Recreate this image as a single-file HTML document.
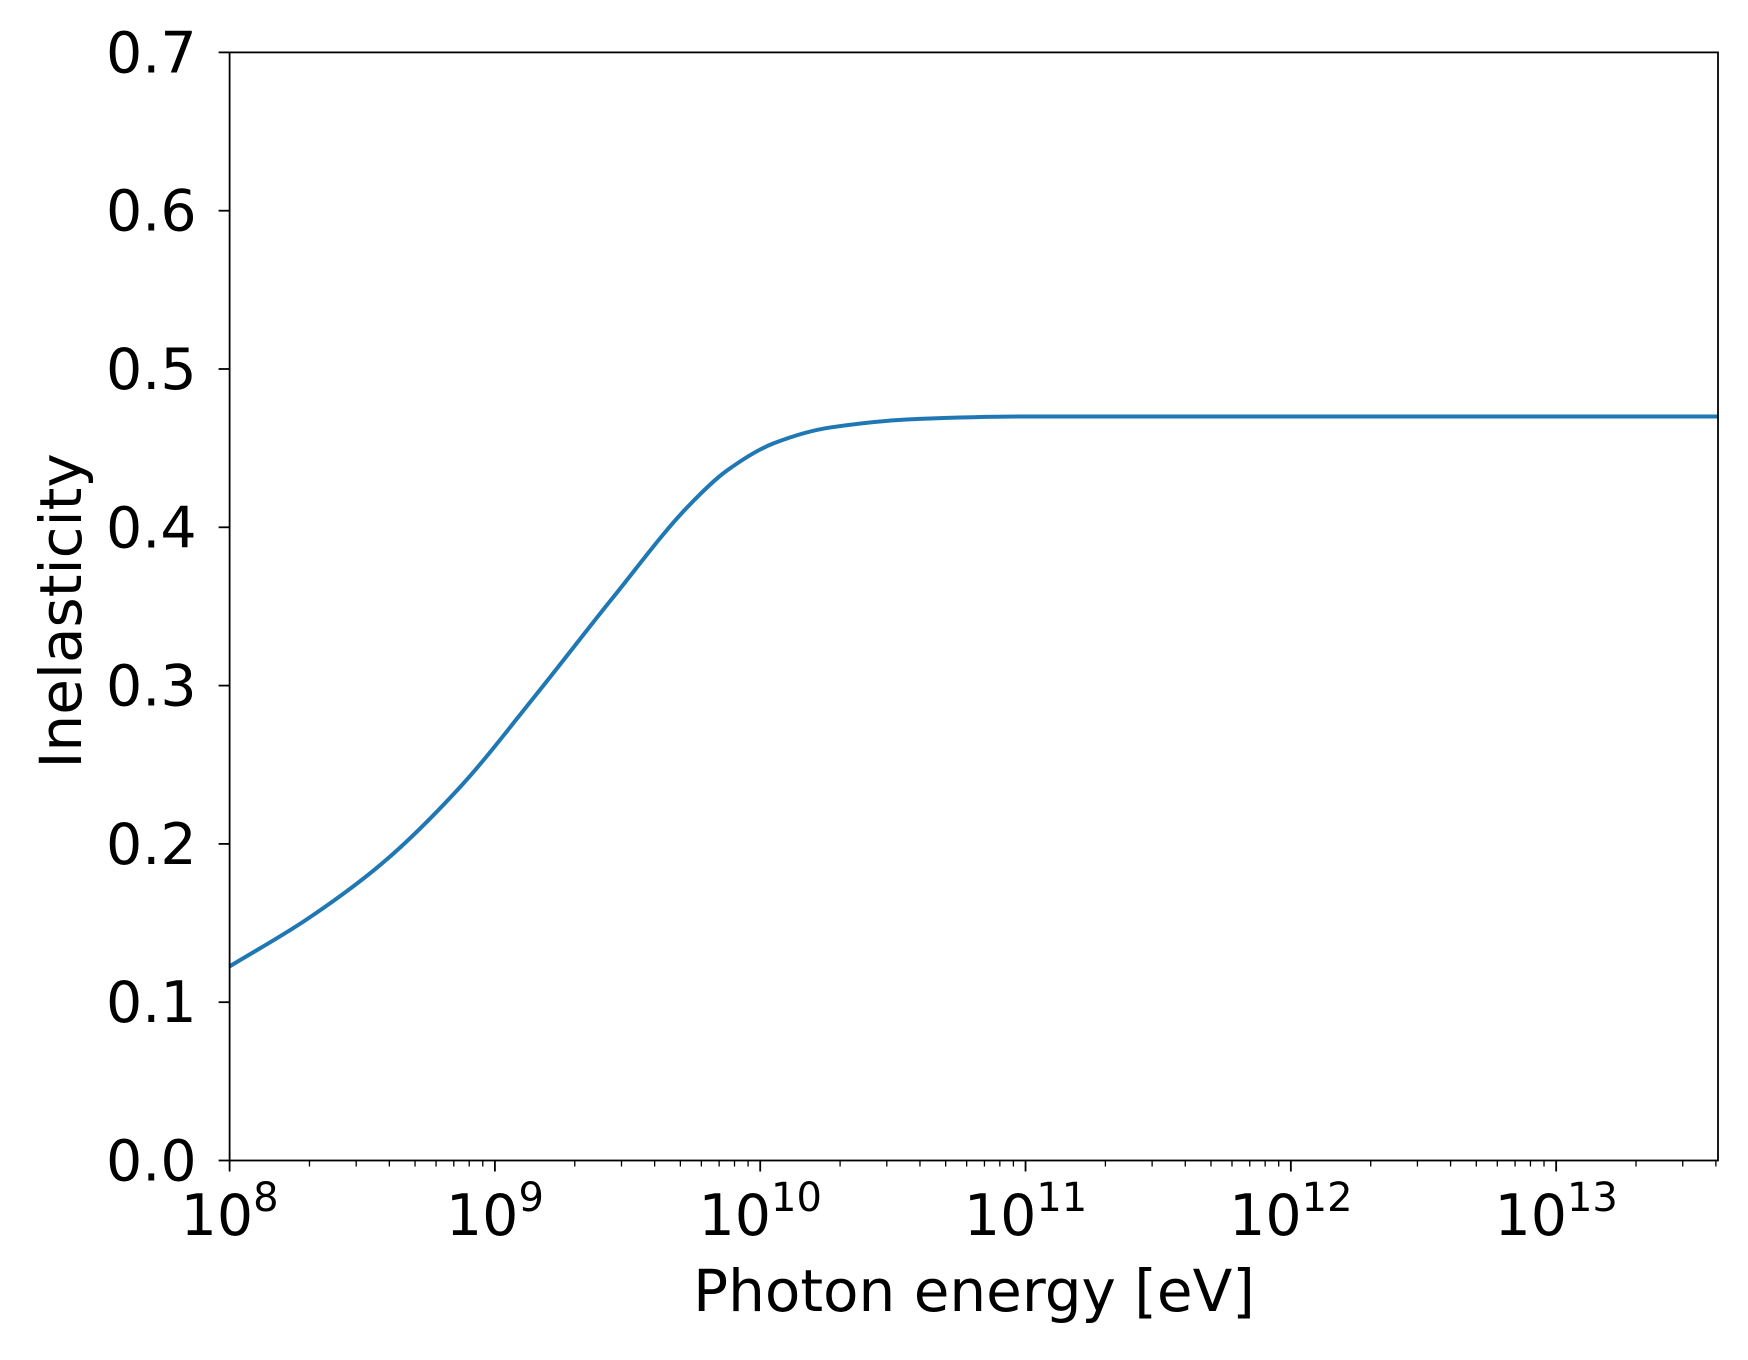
<!DOCTYPE html>
<html><head><meta charset="utf-8"><style>body{margin:0;background:#fff}svg{display:block}</style></head>
<body>
<svg id="chart" width="1748" height="1360" viewBox="0 0 1748 1360" xmlns="http://www.w3.org/2000/svg" font-family="'DejaVu Sans','Liberation Sans',sans-serif">
<rect width="1748" height="1360" fill="#fff"/>
<path id="curve" fill="none" stroke="#1f77b4" stroke-width="4" stroke-linejoin="round"/>
<rect x="229.6" y="52.4" width="1488.4" height="1108.1" fill="none" stroke="#000" stroke-width="1.8"/>
<g id="axes"></g>
<text x="974" y="1311" font-size="58" text-anchor="middle">Photon energy [eV]</text>
<text transform="translate(81,611) rotate(-90)" font-size="58" text-anchor="middle">Inelasticity</text>
</svg>
<script>
const logE = [8, 8.288, 8.577, 8.866, 9.154, 9.442, 9.731, 9.876, 10.05, 10.262, 10.6, 11, 12, 13, 13.61];
const inel = [0.1226, 0.152, 0.188, 0.2354, 0.294, 0.355, 0.4137, 0.436, 0.453, 0.463, 0.4685, 0.470, 0.470, 0.470, 0.470];
const yTicks = [0, 0.1, 0.2, 0.3, 0.4, 0.5, 0.6, 0.7];
const yTickLabels = ["0.0","0.1","0.2","0.3","0.4","0.5","0.6","0.7"];
const xDecades = [8, 9, 10, 11, 12, 13];
const xTickLabels = ["8","9","10","11","12","13"];

const L=229.6,R=1718,T=52.4,B=1160.5,xmin=8,xmax=13.61,ymin=0,ymax=0.7;
const X=v=>L+(v-xmin)/(xmax-xmin)*(R-L);
const Y=v=>B-(v-ymin)/(ymax-ymin)*(B-T);
const NS='http://www.w3.org/2000/svg';
const axes=document.getElementById('axes');
function mk(tag,attrs){const e=document.createElementNS(NS,tag);for(const k in attrs)e.setAttribute(k,attrs[k]);axes.appendChild(e);return e;}

// monotone cubic (Fritsch-Carlson) interpolation
const n=logE.length, dx=[], sl=[];
for(let i=0;i<n-1;i++){dx.push(logE[i+1]-logE[i]);sl.push((inel[i+1]-inel[i])/dx[i]);}
const m=[sl[0]];
for(let i=1;i<n-1;i++){
  if(sl[i-1]*sl[i]<=0)m.push(0);
  else{const w1=2*dx[i]+dx[i-1],w2=dx[i]+2*dx[i-1];m.push((w1+w2)/(w1/sl[i-1]+w2/sl[i]));}
}
m.push(sl[n-2]);
let d='';
for(let i=0;i<n-1;i++){
  const x0=logE[i],x1=logE[i+1],y0=inel[i],y1=inel[i+1],h=dx[i];
  if(i===0)d+='M'+X(x0)+','+Y(y0);
  d+=` C${X(x0+h/3)},${Y(y0+m[i]*h/3)} ${X(x1-h/3)},${Y(y1-m[i+1]*h/3)} ${X(x1)},${Y(y1)}`;
}
document.getElementById('curve').setAttribute('d',d);

yTicks.forEach((v,i)=>{
  const y=Y(v);
  const t=mk('line',{x1:L-11,x2:L,y1:y,y2:y,stroke:'#000','stroke-width':1.8});
  
  
  const lb=mk('text',{x:L-33,y:y+20,'font-size':57,'text-anchor':'end'});
  lb.textContent=yTickLabels[i];
  
  
});
xDecades.forEach((v,i)=>{
  const x=X(v);
  const t=mk('line',{x1:x,x2:x,y1:B,y2:B+11,stroke:'#000','stroke-width':1.8});
  
  
  for(let k=2;k<=9;k++){
    const lv=v+Math.log10(k);
    if(lv>xmax)break;
    const mt=mk('line',{x1:X(lv),x2:X(lv),y1:B,y2:B+6,stroke:'#000','stroke-width':1.3});
    
    
  }
  const lb=mk('text',{x:x,y:1235,'font-size':57,'text-anchor':'middle'});
  
  
  const a=document.createElementNS(NS,'tspan');a.textContent='10';lb.appendChild(a);
  const b=document.createElementNS(NS,'tspan');b.setAttribute('font-size','40');b.setAttribute('dy','-24');b.textContent=xTickLabels[i];lb.appendChild(b);
});
</script>
</body></html>
